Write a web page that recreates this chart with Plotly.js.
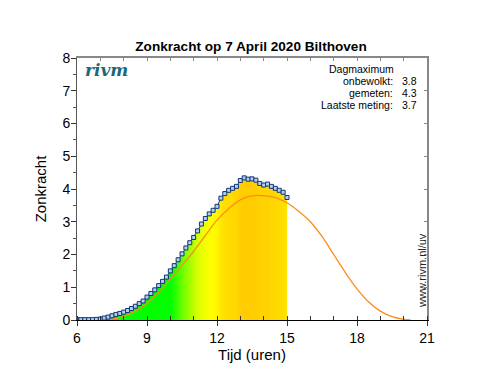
<!DOCTYPE html>
<html><head><meta charset="utf-8">
<script src="https://cdn.plot.ly/plotly-3.0.1.min.js"></script>
<style>body{margin:0;background:#fff}#c{width:502px;height:377px}</style>
</head><body><div id="c"></div>
<script>
// measured (10-minute) times in hours and values
var times = [6.0,6.1667,6.3333,6.5,6.6667,6.8333,7.0,7.1667,7.3333,7.5,7.6667,7.8333,
  8.0,8.1667,8.3333,8.5,8.6667,8.8333,9.0,9.1667,9.3333,9.5,9.6667,9.8333,
  10.0,10.1667,10.3333,10.5,10.6667,10.8333,11.0,11.1667,11.3333,11.5,11.6667,11.8333,
  12.0,12.1667,12.3333,12.5,12.6667,12.8333,13.0,13.1667,13.3333,13.5,13.6667,13.8333,
  14.0,14.1667,14.3333,14.5,14.6667,14.8333,15.0];
var measured = [0.01,0.01,0.01,0.01,0.01,0.02,0.03,0.06,0.09,0.13,0.17,0.20,
  0.24,0.29,0.35,0.42,0.50,0.58,0.70,0.81,0.92,1.05,1.18,1.31,
  1.50,1.66,1.84,2.02,2.20,2.36,2.52,2.72,2.93,3.10,3.24,3.35,
  3.47,3.72,3.86,3.96,4.02,4.08,4.26,4.34,4.30,4.31,4.27,4.17,
  4.12,4.15,4.08,4.02,3.96,3.90,3.74];
// clear-sky (onbewolkt) curve
var clearTimes = [7.1,7.5,8.0,8.5,9.0,9.5,10.0,10.5,11.0,11.5,12.0,12.5,13.0,13.5,13.9,14.5,15.0,15.5,16.0,16.5,17.0,17.5,18.0,18.5,19.0,19.5,20.0,20.3];
var clearSky   = [0.0,0.03,0.12,0.27,0.52,0.86,1.25,1.67,2.10,2.58,3.05,3.40,3.67,3.79,3.80,3.74,3.58,3.32,3.00,2.55,2.00,1.45,0.95,0.55,0.27,0.10,0.02,0.0];
// colour by value
var uvLevels = [0, 1.5, 2.1, 2.7, 3.3, 3.8, 4.3];
var uvColors = ['#00ff00','#00ff00','#77ff00','#d8ff00','#ffff00','#ffe200','#ffcc00'];
var xTicks = [6,9,12,15,18,21];
var stats = [['onbewolkt:','3.8'],['gemeten:','4.3'],['Laatste meting:','3.7']];

function hex(c){return [parseInt(c.substr(1,2),16),parseInt(c.substr(3,2),16),parseInt(c.substr(5,2),16)];}
function colorFor(v){
  for(var i=1;i<uvLevels.length;i++){
    if(v<=uvLevels[i]){
      var f=(v-uvLevels[i-1])/(uvLevels[i]-uvLevels[i-1]);
      var a=hex(uvColors[i-1]),b=hex(uvColors[i]);
      return 'rgb('+a.map(function(x,k){return Math.round(x+(b[k]-x)*f);}).join(',')+')';
    }
  }
  return uvColors[uvColors.length-1];
}
var t0=times[0], t1=times[times.length-1];
var cs = times.map(function(t,i){return [(t-t0)/(t1-t0), colorFor(measured[i])];});
cs[0][0]=0; cs[cs.length-1][0]=1;

var font='"Liberation Sans", Arial, sans-serif';
var traces = [
  {x:times,y:measured,type:'scatter',mode:'lines',line:{width:0},fill:'tozeroy',
   fillgradient:{type:'horizontal',colorscale:cs},hoverinfo:'skip',showlegend:false},
  {x:clearTimes,y:clearSky,type:'scatter',mode:'lines',line:{color:'#ff8c1a',width:1.3,shape:'spline'},showlegend:false},
  {x:times,y:measured,type:'scatter',mode:'lines+markers',line:{color:'#1a3a80',width:1},
   marker:{symbol:'square',size:4,color:'#b4d0ee',line:{color:'#123575',width:1}},showlegend:false},
  {x:[6,21],y:[0,8],xaxis:'x2',yaxis:'y2',mode:'none',type:'scatter',showlegend:false,hoverinfo:'skip'}
];

var annotations = [
  {xref:'paper',yref:'paper',x:0.814,y:0.958,xanchor:'center',yanchor:'middle',text:'Dagmaximum',showarrow:false,font:{family:font,size:10.5,color:'#000'}},
  {xref:'paper',yref:'paper',x:0.018,y:0.955,xanchor:'left',yanchor:'middle',text:'<b><i>rivm</i></b>',showarrow:false,font:{family:'"DejaVu Serif", serif',size:17,color:'#1b6878'}},
  {xref:'paper',yref:'paper',x:0.985,y:0.19,xanchor:'center',yanchor:'middle',text:'www.rivm.nl/uv',textangle:-90,showarrow:false,font:{family:font,size:11,color:'#222'}}
];
stats.forEach(function(s,i){
  var yy=0.912-i*0.045;
  annotations.push({xref:'paper',yref:'paper',x:0.908,y:yy,xanchor:'right',yanchor:'middle',text:s[0],showarrow:false,font:{family:font,size:10.5,color:'#000'}});
  annotations.push({xref:'paper',yref:'paper',x:0.922,y:yy,xanchor:'left',yanchor:'middle',text:s[1],showarrow:false,font:{family:font,size:10.5,color:'#000'}});
});

var layout = {
  width:502,height:377,margin:{l:77,r:75,t:58,b:57},
  paper_bgcolor:'#fff',plot_bgcolor:'#fff',
  title:{text:'<b>Zonkracht op 7 April 2020 Bilthoven</b>',x:0.5,xanchor:'center',y:0.878,yanchor:'middle',yref:'container',font:{family:font,size:13.6,color:'#000'}},
  xaxis:{range:[6,21],tickvals:xTicks,ticks:'outside',ticklen:5,tickcolor:'#333',showgrid:false,zeroline:false,
    showline:true,linecolor:'#000',linewidth:1,tickfont:{family:font,size:14,color:'#000'},
    minor:{dtick:1,tick0:6,ticks:'inside',ticklen:4,tickcolor:'#333',showgrid:false},
    title:{text:'Tijd (uren)',font:{family:font,size:15,color:'#000'},standoff:4}},
  yaxis:{range:[0,8],dtick:1,ticks:'outside',ticklen:5,tickcolor:'#333',showgrid:false,zeroline:false,ticklabelstandoff:-2,
    showline:true,linecolor:'#555',linewidth:1,tickfont:{family:font,size:14,color:'#000'},
    minor:{dtick:0.5,ticks:'outside',ticklen:3,tickcolor:'#555',showgrid:false},
    title:{text:'Zonkracht',font:{family:font,size:15,color:'#000'},standoff:12}},
  xaxis2:{overlaying:'x',side:'top',range:[6,21],dtick:1,tick0:6,ticks:'inside',ticklen:3,tickcolor:'#888',showticklabels:false,
    showgrid:false,zeroline:false,showline:true,linecolor:'#888',linewidth:2},
  yaxis2:{overlaying:'y',side:'right',range:[0,8],dtick:1,ticks:'inside',ticklen:3,tickcolor:'#888',showticklabels:false,
    showgrid:false,zeroline:false,showline:true,linecolor:'#888',linewidth:2},
  annotations:annotations,
  showlegend:false
};
Plotly.newPlot('c',traces,layout,{staticPlot:true,displayModeBar:false});
</script></body></html>
